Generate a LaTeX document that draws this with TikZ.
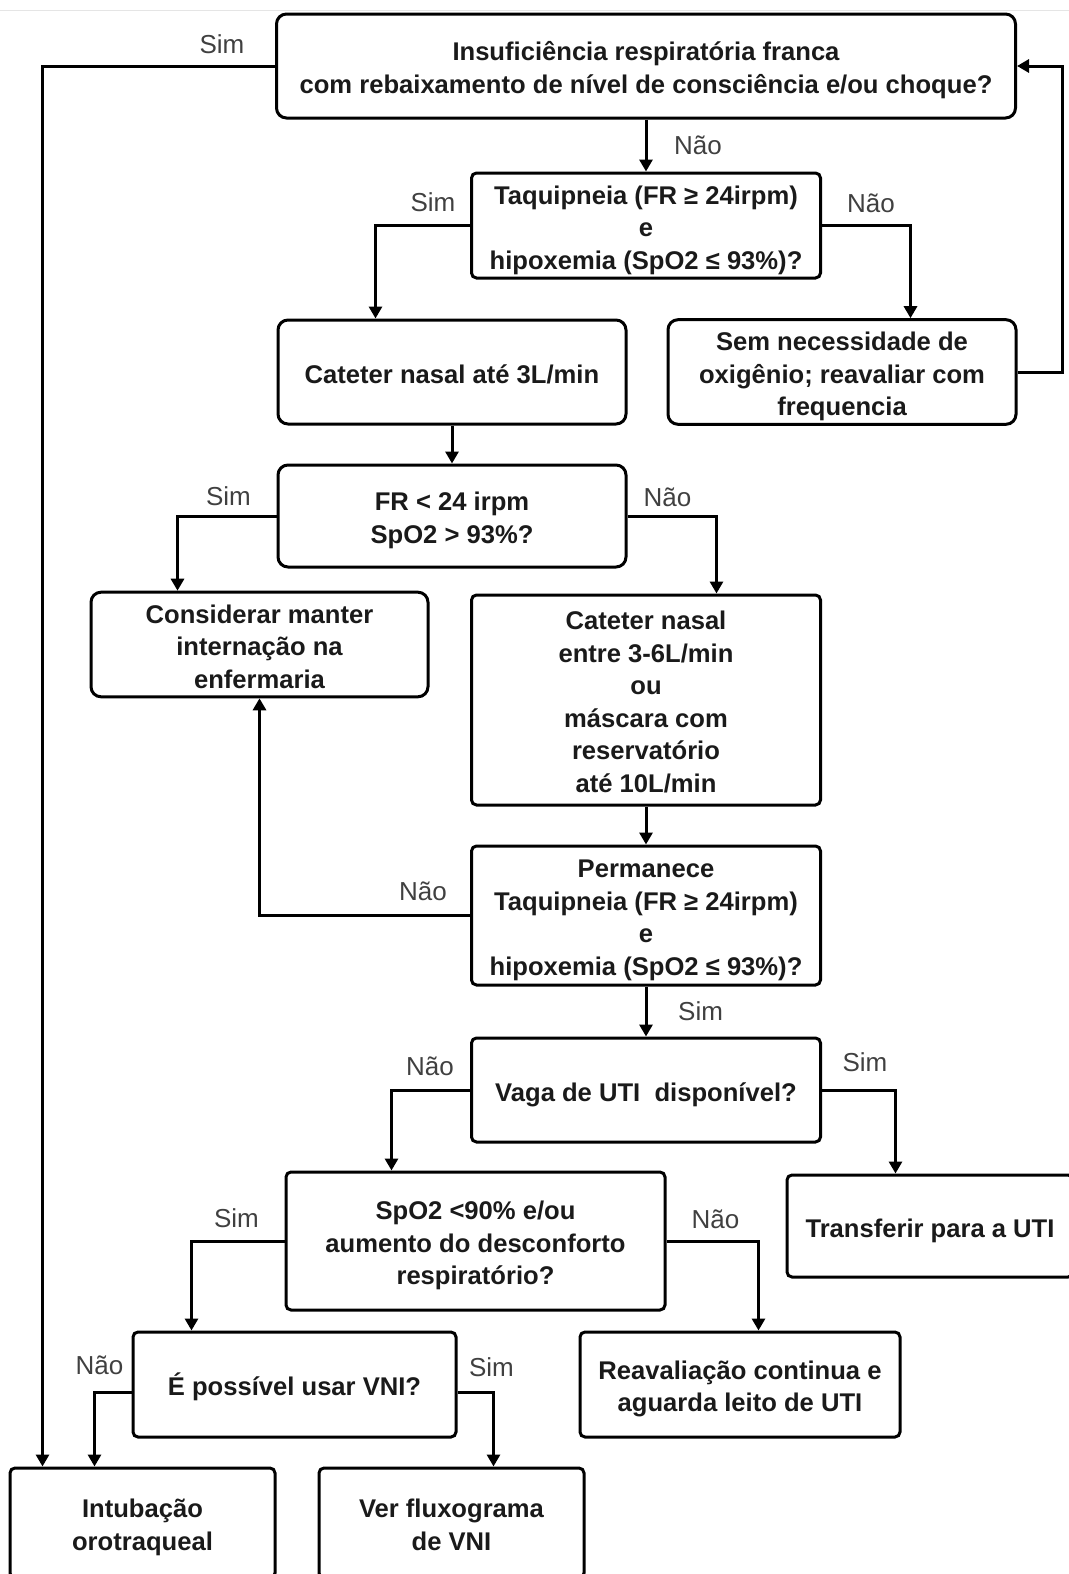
\documentclass[tikz,border=0pt]{standalone}
\usepackage{fontspec}
\setmainfont{Liberation Sans}
\usetikzlibrary{arrows.meta,positioning}
\definecolor{ink}{HTML}{1A1A1A}
\definecolor{lblgray}{HTML}{404040}
% struts that drop the box text a little, as in the source
\newcommand{\tstr}{\rule{0pt}{15.5pt}}
\newcommand{\bstr}{\rule[-4.3pt]{0pt}{0pt}}

\begin{document}
\begin{tikzpicture}[
  x=0.5pt, y=-0.5pt,
  >={Triangle[length=6pt,width=6.5pt]},
  every node/.style={font=\fontsize{13}{16.25}\selectfont},
  box/.style={draw, line width=1.5pt, rounded corners=5pt, align=center,
              text=ink, inner sep=0pt,
              font=\fontsize{12.8}{16.25}\selectfont\bfseries},
  sqbox/.style={box, rounded corners=2.5pt},
  lbl/.style={text=lblgray},
  arr/.style={->, line width=1.5pt},
]
\clip (0,0) rectangle (1069,1574);
\draw[black!10, line width=0.5pt] (0,10) -- (1069,10);

\node[box, minimum width=369.5pt, minimum height=52pt] (top) at (646,66)
  {\tstr Insuficiência respiratória franca\\com rebaixamento de nível de consciência e/ou choque?\bstr};
\node[sqbox, minimum width=174.5pt, minimum height=52.5pt] (taqui) at (646,225.5)
  {\tstr Taquipneia (FR ≥ 24irpm)\\e\\hipoxemia (SpO2 ≤ 93\%)?\bstr};
\node[box, minimum width=174pt, minimum height=52pt] (cat1) at (452,372)
  {\tstr Cateter nasal até 3L/min\bstr};
\node[box, minimum width=174pt, minimum height=52pt] (sem) at (842,372)
  {\tstr Sem necessidade de\\oxigênio; reavaliar com\\frequencia\bstr};
\node[box, minimum width=174pt, minimum height=51pt] (fr) at (452,516)
  {\tstr FR < 24 irpm\\SpO2 > 93\%?\bstr};
\node[box, minimum width=168.5pt, minimum height=51.5pt] (cons) at (259.5,644.5)
  {\tstr Considerar manter\\internação na\\enfermaria\bstr};
\node[sqbox, minimum width=174.5pt, minimum height=105pt] (cat2) at (646,700)
  {\tstr Cateter nasal\\entre 3-6L/min\\ou\\máscara com\\reservatório\\até 10L/min\bstr};
\node[sqbox, minimum width=174.5pt, minimum height=69.5pt] (perm) at (646,915.5)
  {\tstr Permanece\\Taquipneia (FR ≥ 24irpm)\\e\\hipoxemia (SpO2 ≤ 93\%)?\bstr};
\node[sqbox, minimum width=174.5pt, minimum height=52pt] (vaga) at (646,1090)
  {\tstr Vaga de UTI~ disponível?\bstr};
\node[sqbox, minimum width=189.5pt, minimum height=69pt] (spo) at (475.5,1241)
  {\tstr SpO2 <90\% e/ou\\aumento do desconforto\\respiratório?\bstr};
\node[sqbox, minimum width=143pt, minimum height=51pt] (transf) at (930,1226)
  {\tstr Transferir para a UTI\bstr};
\node[sqbox, minimum width=161.5pt, minimum height=52.5pt] (poss) at (294.5,1384.5)
  {\tstr É possível usar VNI?\bstr};
\node[sqbox, minimum width=160pt, minimum height=52.5pt] (reav) at (740,1384.5)
  {\tstr Reavaliação continua e\\aguarda leito de UTI\bstr};
\node[sqbox, minimum width=132.5pt, minimum height=55pt] (intub) at (142.5,1523)
  {\tstr Intubação\\orotraqueal\bstr};
\node[sqbox, minimum width=132.5pt, minimum height=55pt] (ver) at (451.5,1523)
  {\tstr Ver fluxograma\\de VNI\bstr};

% connectors
\draw[arr] (top.west) node[lbl, xshift=-26.5pt, yshift=11pt] {Sim} -| ([xshift=17pt]intub.north west);
\draw[arr] (top.south) -- node[lbl, right=10pt] {Não} (taqui.north);
\draw[arr] (taqui.west) node[lbl, xshift=-18.5pt, yshift=11.75pt] {Sim} -| ([xshift=49.5pt]cat1.north west);
\draw[arr] (taqui.east) node[lbl, xshift=24.5pt, yshift=11.25pt] {Não} -| ([xshift=122pt]sem.north west);
\draw[arr] (sem.east) -- ++(22.5pt,0) |- (top.east);
\draw[arr] (cat1.south) -- (fr.north);
\draw[arr] (fr.west) node[lbl, xshift=-24pt, yshift=10pt] {Sim} -| ([xshift=44pt]cons.north west);
\draw[arr] (fr.east) node[lbl, xshift=20pt, yshift=9.5pt] {Não} -| ([xshift=123.25pt]cat2.north west);
\draw[arr] (cat2.south) -- (perm.north);
\draw[arr] (perm.west) node[lbl, xshift=-23.5pt, yshift=12.25pt] {Não} -| (cons.south);
\draw[arr] (perm.south) -- node[lbl, right=12pt] {Sim} (vaga.north);
\draw[arr] (vaga.west) node[lbl, xshift=-20pt, yshift=12pt] {Não} -| ([xshift=53.5pt]spo.north west);
\draw[arr] (vaga.east) node[lbl, xshift=21.5pt, yshift=14pt] {Sim} -| ([xshift=55pt]transf.north west);
\draw[arr] (spo.west) node[lbl, xshift=-24pt, yshift=11.5pt] {Sim} -| ([xshift=30pt]poss.north west);
\draw[arr] (spo.east) node[lbl, xshift=24.5pt, yshift=11pt] {Não} -| ([xshift=90pt]reav.north west);
\draw[arr] ([yshift=-4pt]poss.west) node[lbl, xshift=-16pt, yshift=13.5pt] {Não} -| ([xshift=43pt]intub.north west);
\draw[arr] ([yshift=-4pt]poss.east) node[lbl, xshift=17pt, yshift=12.5pt] {Sim} -| ([xshift=88pt]ver.north west);
\end{tikzpicture}
\end{document}
